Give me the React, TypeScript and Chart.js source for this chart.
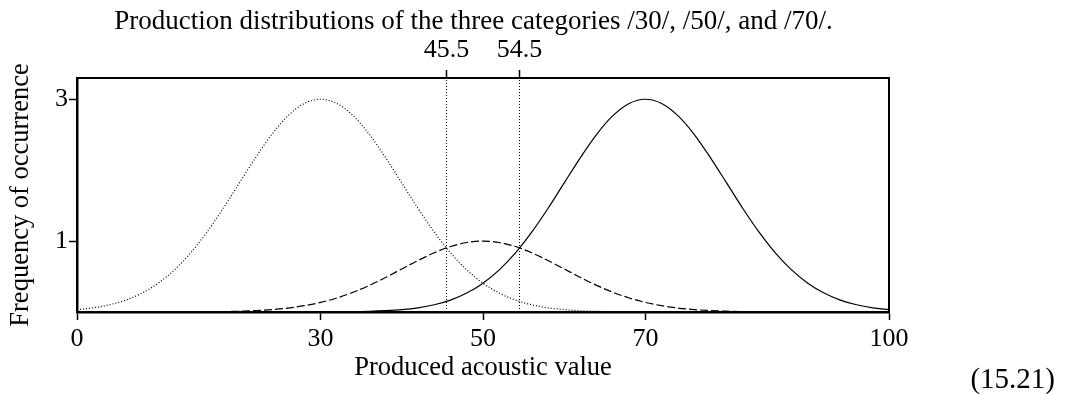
import React, { useEffect, useRef } from "react";
import { Chart, registerables } from "chart.js";

Chart.register(...registerables);

// ---- data ----
const acousticValues = [
  0, 2, 4, 6, 8, 10, 12, 14, 16, 18, 20, 22, 24, 26, 28, 30, 32, 34, 36, 38, 40, 42, 44, 46, 48, 50,
  52, 54, 56, 58, 60, 62, 64, 66, 68, 70, 72, 74, 76, 78, 80, 82, 84, 86, 88, 90, 92, 94, 96, 98, 100,
];

const category30 = [
  0.033, 0.059, 0.102, 0.168, 0.267, 0.406, 0.594, 0.834, 1.126, 1.46, 1.82, 2.178, 2.506, 2.769, 2.941,
  3.0, 2.941, 2.769, 2.506, 2.178, 1.82, 1.46, 1.126, 0.834, 0.594, 0.406, 0.267, 0.168, 0.102, 0.059,
  0.033, 0.018, 0.009, 0.005, 0.002, 0.001, 0, 0, 0, 0, 0, 0, 0, 0, 0, 0, 0, 0, 0, 0, 0,
];

const category50 = [
  0, 0, 0, 0, 0, 0.0003, 0.0007, 0.0015, 0.003, 0.006, 0.011, 0.02, 0.034, 0.056, 0.089, 0.135, 0.198,
  0.278, 0.375, 0.487, 0.607, 0.726, 0.835, 0.923, 0.98, 1.0, 0.98, 0.923, 0.835, 0.726, 0.607, 0.487,
  0.375, 0.278, 0.198, 0.135, 0.089, 0.056, 0.034, 0.02, 0.011, 0.006, 0.003, 0.0015, 0.0007, 0.0003,
  0, 0, 0, 0, 0,
];

const category70 = [
  0, 0, 0, 0, 0, 0, 0, 0, 0, 0, 0, 0, 0, 0, 0, 0.001, 0.002, 0.005, 0.009, 0.018, 0.033, 0.059, 0.102,
  0.168, 0.267, 0.406, 0.594, 0.834, 1.126, 1.46, 1.82, 2.178, 2.506, 2.769, 2.941, 3.0, 2.941, 2.769,
  2.506, 2.178, 1.82, 1.46, 1.126, 0.834, 0.594, 0.406, 0.267, 0.168, 0.102, 0.059, 0.033,
];

const boundaries = [45.5, 54.5];
const bottomTicks = [0, 30, 50, 70, 100];
const leftTicks = [1, 3];
const xMin = 0;
const xMax = 100;
const yMin = 0;
const yMax = 3.3;

const titleText = "Production distributions of the three categories /30/, /50/, and /70/.";
const xTitle = "Produced acoustic value";
const yTitle = "Frequency of occurrence";
const equationLabel = "(15.21)";

// ---- styling ----
const FAMILY = "'Liberation Serif', 'Times New Roman', serif";
const TICK_SIZE = 26;
const TITLE_SIZE = 27;
const AXIS_TITLE_SIZE = 26.5;
const EQUATION_SIZE = 29;
const BLACK = "#000";

const equationPlugin = {
  id: "equationLabel",
  afterDraw(chart: any) {
    const ctx = chart.ctx;
    ctx.save();
    ctx.font = `${EQUATION_SIZE}px ${FAMILY}`;
    ctx.fillStyle = BLACK;
    ctx.textAlign = "right";
    ctx.textBaseline = "alphabetic";
    ctx.fillText(equationLabel, 1055, 388);
    ctx.restore();
  },
};

export default function App() {
  const canvasRef = useRef<HTMLCanvasElement | null>(null);

  useEffect(() => {
    if (!canvasRef.current) return;
    const pts = (ys: number[]) => acousticValues.map((x, i) => ({ x, y: ys[i] }));
    const curve = (label: string, ys: number[], dash: number[], width: number) => ({
      label,
      data: pts(ys),
      borderColor: BLACK,
      borderWidth: width,
      borderDash: dash,
      pointRadius: 0,
      fill: false,
      cubicInterpolationMode: "monotone" as const,
    });
    const boundaryLines = boundaries.map((b) => ({
      label: `boundary ${b}`,
      data: [
        { x: b, y: yMin },
        { x: b, y: yMax },
      ],
      borderColor: BLACK,
      borderWidth: 1,
      borderDash: [1, 2],
      pointRadius: 0,
      fill: false,
    }));

    const tickFont = { family: FAMILY, size: TICK_SIZE, weight: "normal" as const };
    const axisTitleFont = { family: FAMILY, size: AXIS_TITLE_SIZE, weight: "normal" as const };

    const chart = new Chart(canvasRef.current, {
      type: "line",
      data: {
        datasets: [
          curve("/30/", category30, [1, 2], 1.2),
          curve("/50/", category50, [8, 3], 1.2),
          curve("/70/", category70, [], 1.2),
          ...boundaryLines,
        ],
      },
      plugins: [equationPlugin],
      options: {
        animation: false,
        responsive: false,
        maintainAspectRatio: false,
        devicePixelRatio: 1,
        layout: { padding: { left: 0, right: 118, top: 0, bottom: 0 } },
        plugins: {
          legend: { display: false },
          tooltip: { enabled: false },
          title: {
            display: true,
            text: titleText,
            color: BLACK,
            font: { family: FAMILY, size: TITLE_SIZE, weight: "normal" },
            padding: { top: 5.5, bottom: 0 },
          },
        },
        scales: {
          x: {
            type: "linear",
            position: "bottom",
            min: xMin,
            max: xMax,
            afterBuildTicks: (s: any) => {
              s.ticks = bottomTicks.map((v) => ({ value: v }));
            },
            afterFit: (s: any) => {
              s.height = 82;
            },
            ticks: {
              color: BLACK,
              font: tickFont,
              padding: 4,
              maxRotation: 0,
              autoSkip: false,
              callback: (v: any) => String(v),
            },
            grid: { drawOnChartArea: false, drawTicks: true, tickLength: 8, tickColor: BLACK, tickWidth: 1.5 },
            border: { display: true, color: BLACK, width: 2.5 },
            title: { display: true, text: xTitle, color: BLACK, font: axisTitleFont, padding: { top: 0, bottom: 10.3 } },
          },
          xTop: {
            type: "linear",
            position: "top",
            min: xMin,
            max: xMax,
            afterBuildTicks: (s: any) => {
              s.ticks = boundaries.map((v) => ({ value: v }));
            },
            afterFit: (s: any) => {
              s.height = 40.1;
            },
            ticks: {
              color: BLACK,
              font: tickFont,
              padding: 4,
              maxRotation: 0,
              autoSkip: false,
              callback: (v: any) => String(v),
            },
            grid: { drawOnChartArea: false, drawTicks: true, tickLength: 8, tickColor: BLACK, tickWidth: 1.5 },
            border: { display: true, color: BLACK, width: 2 },
          },
          y: {
            type: "linear",
            position: "left",
            min: yMin,
            max: yMax,
            afterBuildTicks: (s: any) => {
              s.ticks = leftTicks.map((v) => ({ value: v }));
            },
            afterFit: (s: any) => {
              s.width = 77;
            },
            ticks: {
              color: BLACK,
              font: tickFont,
              padding: 1,
              autoSkip: false,
              callback: (v: any) => String(v),
            },
            grid: { drawOnChartArea: false, drawTicks: true, tickLength: 8, tickColor: BLACK, tickWidth: 1.5 },
            border: { display: true, color: BLACK, width: 2.5 },
            title: { display: true, text: yTitle, color: BLACK, font: axisTitleFont, padding: { top: 5.5, bottom: 0 } },
          },
          yRight: {
            type: "linear",
            position: "right",
            min: yMin,
            max: yMax,
            afterBuildTicks: (s: any) => {
              s.ticks = [];
            },
            afterFit: (s: any) => {
              s.width = 58;
            },
            ticks: { display: false },
            grid: { display: false, drawOnChartArea: false, drawTicks: false },
            border: { display: true, color: BLACK, width: 2 },
          },
        },
      } as any,
    });
    return () => chart.destroy();
  }, []);

  return (
    <div style={{ position: "absolute", left: 0, top: 0, width: 1065, height: 394, background: "#fff" }}>
      <canvas ref={canvasRef} width={1065} height={394} style={{ display: "block", width: 1065, height: 394 }} />
    </div>
  );
}
